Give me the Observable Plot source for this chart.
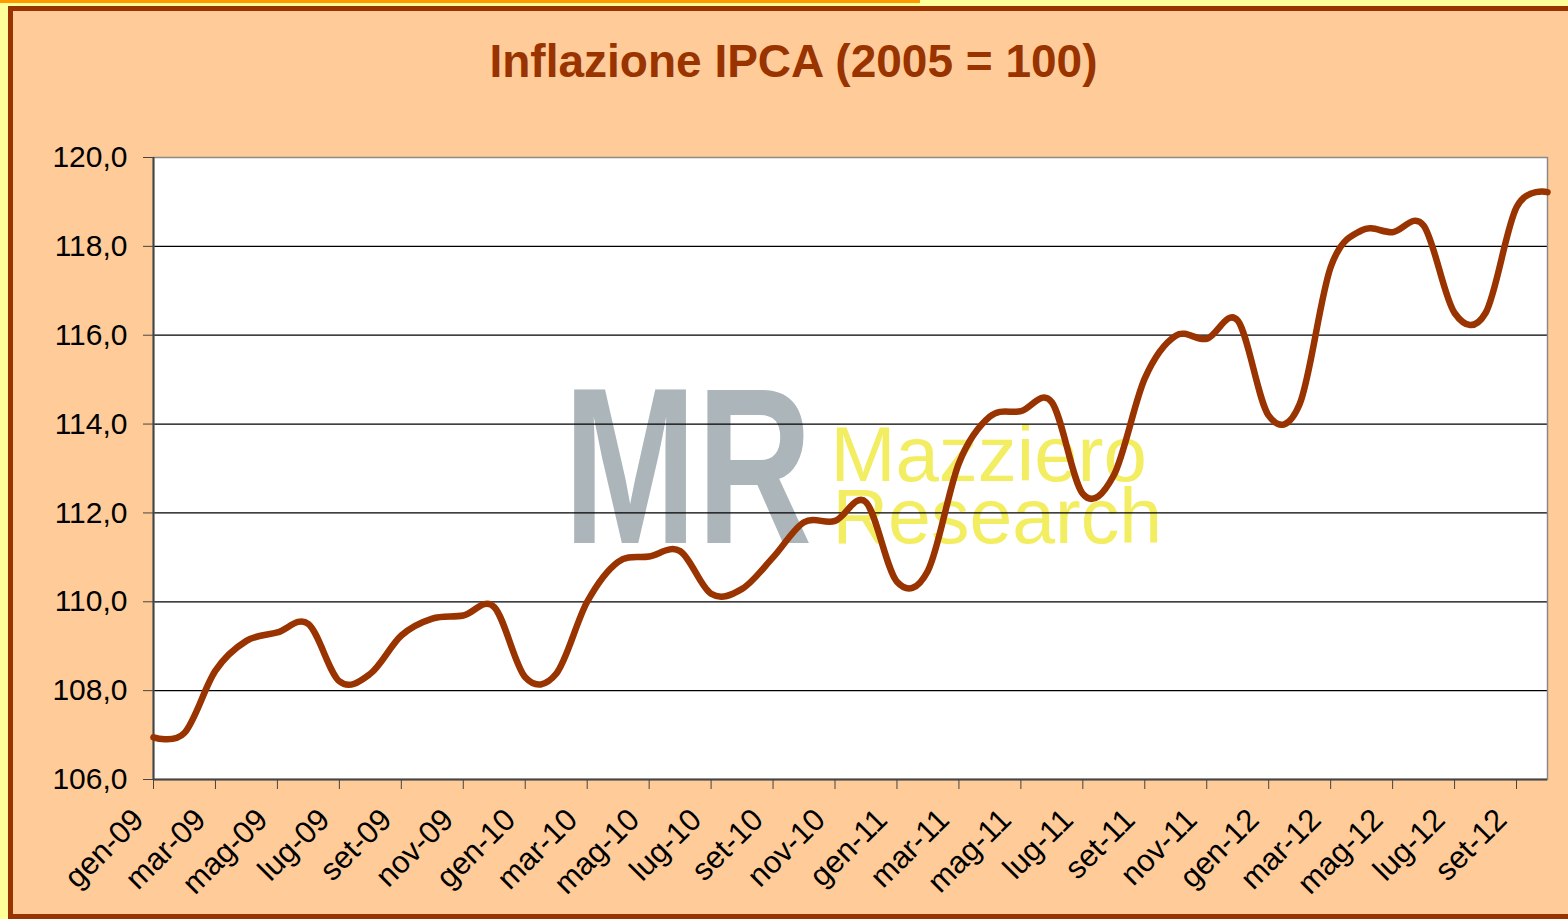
<!DOCTYPE html>
<html>
<head>
<meta charset="utf-8">
<script src="https://cdn.jsdelivr.net/npm/d3@7"></script>
<script src="https://cdn.jsdelivr.net/npm/@observablehq/plot@0.6"></script>
<style>
  html, body { margin: 0; padding: 0; width: 1568px; height: 919px; overflow: hidden; background: #FFFF99; font-family: "Liberation Sans", Arial, sans-serif; }
  #topline { position: absolute; left: 0; top: 0; width: 920px; height: 3px; background: #FF9900; }
  #panel { position: absolute; left: 8px; top: 6px; width: 1620px; height: 913px; box-sizing: border-box;
           border: 5px solid #993300; border-right: none; background: #FFCC99; }
  #title { position: absolute; left: 0; top: 38px; width: 1587px; text-align: center; font-size: 46px; line-height: 46px;
           font-weight: bold; color: #993300; white-space: nowrap; }
  #chart { position: absolute; left: 0; top: 0; }
</style>
</head>
<body>
<div id="topline"></div>
<div id="panel"></div>
<div id="title">Inflazione IPCA (2005 = 100)</div>
<div id="chart"></div>
<script>
// ---- data ----
const months = [
  "gen-09","feb-09","mar-09","apr-09","mag-09","giu-09","lug-09","ago-09","set-09","ott-09","nov-09","dic-09",
  "gen-10","feb-10","mar-10","apr-10","mag-10","giu-10","lug-10","ago-10","set-10","ott-10","nov-10","dic-10",
  "gen-11","feb-11","mar-11","apr-11","mag-11","giu-11","lug-11","ago-11","set-11","ott-11","nov-11","dic-11",
  "gen-12","feb-12","mar-12","apr-12","mag-12","giu-12","lug-12","ago-12","set-12","ott-12"
];
const values = [
  106.95, 107.05, 108.45, 109.12, 109.31, 109.50, 108.21, 108.38, 109.24, 109.62, 109.69, 109.88,
  108.30, 108.38, 110.00, 110.90, 111.02, 111.14, 110.18, 110.29, 111.00, 111.79, 111.82, 112.24,
  110.45, 110.70, 113.12, 114.17, 114.29, 114.49, 112.43, 112.85, 115.03, 115.99, 115.92, 116.33,
  114.19, 114.45, 117.53, 118.36, 118.32, 118.47, 116.50, 116.50, 118.88, 119.22
];
const yTicks = [106, 108, 110, 112, 114, 116, 118, 120];
const gridValues = [108, 110, 112, 114, 116, 118];
const xTickLabels = months.filter((d, i) => i % 2 === 0);
const logoText = ["MR"];
const logoWords = ["Mazziero"];
const logoWords2 = ["Research"];

const data = months.map((m, i) => ({month: m, value: values[i]}));

const svg = Plot.plot({
  width: 1568,
  height: 919,
  marginLeft: 153,
  marginRight: 21,
  marginTop: 157,
  marginBottom: 140,
  style: {background: "transparent", fontFamily: "'Liberation Sans', Arial, sans-serif", color: "#000", overflow: "visible"},
  x: {type: "point", domain: months, padding: 0, label: null},
  y: {domain: [106, 120], label: null},
  marks: [
    Plot.frame({fill: "white", stroke: null}),
    Plot.text(logoText, {text: d => d, frameAnchor: "top-left", dx: 410, dy: 228, lineAnchor: "top", textAnchor: "start",
      fontSize: 222, fontWeight: "bold", fill: "#ABB5BA"}),
    Plot.text(logoWords, {text: d => d, frameAnchor: "top-left", dx: 677, dy: 268, lineAnchor: "top", textAnchor: "start",
      fontSize: 78, fill: "#F3ED62"}),
    Plot.text(logoWords2, {text: d => d, frameAnchor: "top-left", dx: 679, dy: 331, lineAnchor: "top", textAnchor: "start",
      fontSize: 77, fill: "#F3ED62"}),
    Plot.ruleY(gridValues, {stroke: "#000", strokeWidth: 1.2}),
    Plot.frame({stroke: "#8a8a8a", strokeWidth: 1.5}),
    Plot.ruleX([months[0]], {stroke: "#444", strokeWidth: 2}),
    Plot.ruleY([106], {stroke: "#444", strokeWidth: 2}),
    Plot.line(data, {x: "month", y: "value", curve: "cardinal", tension: 0, stroke: "#993300", strokeWidth: 6.5,
      strokeLinejoin: "round", strokeLinecap: "round"}),
    Plot.axisY({ticks: yTicks, tickFormat: d => d.toFixed(1).replace(".", ","), tickSize: 10, tickPadding: 16,
      fontSize: 30, label: null, stroke: "#444"}),
    // tick marks only
    Plot.axisX({ticks: xTickLabels, tickSize: 10, tickFormat: () => "", label: null, stroke: "#444"}),
    // rotated tick labels only
    Plot.axisX({ticks: xTickLabels, tickRotate: -45, tickSize: 0, tickPadding: 35, dx: -15, fontSize: 31, label: null})
  ]
});
svg.style.background = "transparent";

// compress the logo letters horizontally (about their own left edge, before the dx/dy shift)
d3.select(svg).selectAll("text").filter(function () { return this.textContent === "MR"; }).each(function () {
  const existing = this.getAttribute("transform") || "";
  this.setAttribute("transform", `translate(153,0) scale(0.72,1) translate(-153,0) ${existing}`);
});

document.getElementById("chart").appendChild(svg);
</script>
</body>
</html>
